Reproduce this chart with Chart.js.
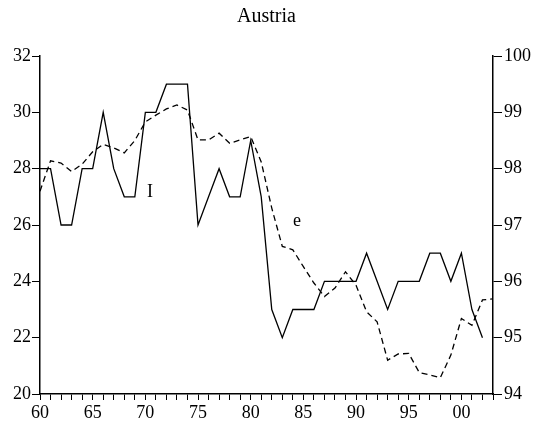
<!DOCTYPE html>
<html><head><meta charset="utf-8">
<script src="https://cdn.jsdelivr.net/npm/chart.js@4/dist/chart.umd.min.js"></script>
<style>html,body{margin:0;padding:0;background:#fff}#wrap{width:538px;height:428px}</style>
</head><body><div id="wrap"><canvas id="c" width="538" height="428"></canvas></div>
<script>
const titleText = 'Austria';
const iYears = [1960,1961,1962,1963,1964,1965,1966,1967,1968,1969,1970,1971,1972,1973,1974,1975,1976,1977,1978,1979,1980,1981,1982,1983,1984,1985,1986,1987,1988,1989,1990,1991,1992,1993,1994,1995,1996,1997,1998,1999,2000,2001,2002];
const iValues = [28,28,26,26,28,28,30,28,27,27,30,30,31,31,31,26,27,28,27,27,29,27,23,22,23,23,23,24,24,24,24,25,24,23,24,24,24,25,25,24,25,23,22];
const eYears = [1960,1961,1962,1963,1964,1965,1966,1967,1968,1969,1970,1971,1972,1973,1974,1975,1976,1977,1978,1979,1980,1981,1982,1983,1984,1985,1986,1987,1988,1989,1990,1991,1992,1993,1994,1995,1996,1997,1998,1999,2000,2001,2002,2003];
const eValues = [97.6,98.14,98.1,97.95,98.08,98.3,98.43,98.37,98.28,98.5,98.83,98.95,99.06,99.13,99.04,98.51,98.51,98.63,98.45,98.51,98.57,98.12,97.3,96.62,96.56,96.26,95.97,95.73,95.88,96.17,95.93,95.46,95.28,94.6,94.71,94.72,94.38,94.34,94.29,94.69,95.34,95.22,95.67,95.69];
const leftTicks = [20,22,24,26,28,30,32];
const rightTicks = [94,95,96,97,98,99,100];
const seriesLabels = ['I','e'];
const labelPos = [[1970.45,27.15,'y'],[1984.4,97.07,'y2']];

const font = {family:'Liberation Serif', size:18, weight:'normal'};
const labelPlugin = {
  id:'seriesLabels',
  afterDatasetsDraw(chart){
    const ctx = chart.ctx;
    ctx.save();
    ctx.font = '18px "Liberation Serif"';
    ctx.fillStyle = '#000';
    ctx.textAlign = 'center';
    ctx.textBaseline = 'middle';
    seriesLabels.forEach((t,i)=>{
      const p = labelPos[i];
      ctx.fillText(t, chart.scales.x.getPixelForValue(p[0]), chart.scales[p[2]].getPixelForValue(p[1]));
    });
    ctx.restore();
  }
};

new Chart(document.getElementById('c'), {
  type:'line',
  data:{datasets:[
    {label:'I', data:iYears.map((y,k)=>({x:y,y:iValues[k]})), yAxisID:'y', borderColor:'#000', borderWidth:1.3, pointRadius:0, tension:0, fill:false},
    {label:'e', data:eYears.map((y,k)=>({x:y,y:eValues[k]})), yAxisID:'y2', borderColor:'#000', borderWidth:1.3, borderDash:[6,4], pointRadius:0, tension:0, fill:false}
  ]},
  options:{
    responsive:false, animation:false,
    layout:{padding:0},
    plugins:{
      legend:{display:false}, tooltip:{enabled:false},
      title:{display:true, fullSize:false, text:titleText, color:'#000', font:{family:'Liberation Serif', size:20, weight:'normal'}, padding:{top:5,bottom:27}}
    },
    scales:{
      x:{type:'linear', min:1960, max:2003,
        afterFit:s=>{s.height=34;},
        ticks:{stepSize:1, autoSkip:false, maxRotation:0, color:'#000', font:font, padding:2,
          callback:v=> (v%5===0 ? String(v).slice(2) : '')},
        grid:{drawOnChartArea:false, drawTicks:true, tickLength:6, color:'#000', lineWidth:1},
        border:{display:true, color:'#000', width:1.5}
      },
      y:{position:'left', min:20, max:32,
        afterFit:s=>{s.width=40;},
        afterBuildTicks:s=>{s.ticks=leftTicks.map(v=>({value:v}));},
        ticks:{color:'#000', font:font, padding:1},
        grid:{drawOnChartArea:false, drawTicks:true, tickLength:8, color:'#000', lineWidth:1},
        border:{display:true, color:'#000', width:1.5}
      },
      y2:{position:'right', min:94, max:100,
        afterFit:s=>{s.width=45;},
        afterBuildTicks:s=>{s.ticks=rightTicks.map(v=>({value:v}));},
        ticks:{color:'#000', font:font, padding:2},
        grid:{drawOnChartArea:false, drawTicks:true, tickLength:9, color:'#000', lineWidth:1},
        border:{display:true, color:'#000', width:1.5}
      }
    }
  },
  plugins:[labelPlugin]
});
</script></body></html>
